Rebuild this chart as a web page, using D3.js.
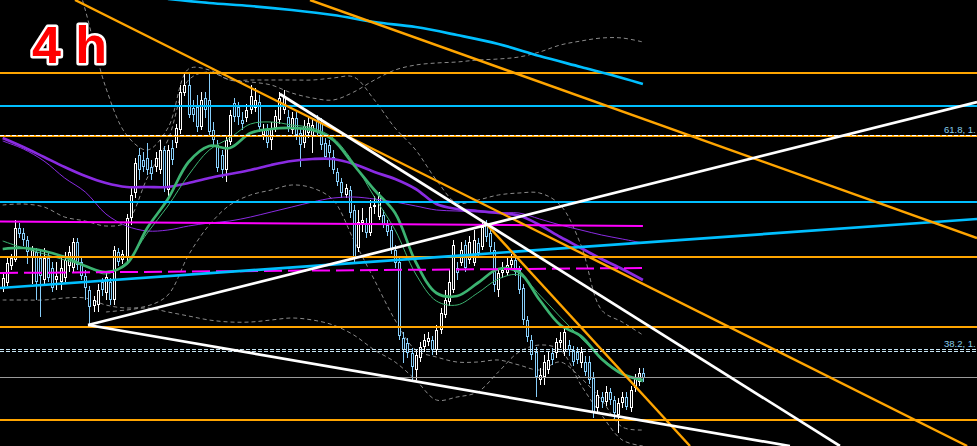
<!DOCTYPE html>
<html><head><meta charset="utf-8">
<script src="https://cdn.jsdelivr.net/npm/d3@7/dist/d3.min.js"></script>
<style>html,body{margin:0;padding:0;background:#000;overflow:hidden;}svg{display:block;}</style>
</head><body>
<svg id="chart" width="977" height="446"></svg>
<script>
// ---------- DATA (4h bars, price units) ----------
const opens=[1712,1717,1734,1740,1772,1767,1760,1742,1748,1742,
1720,1742,1732,1720,1718,1722,1734,1732,1758,1738,
1724,1710,1694,1695,1718,1707,1718,1700,1748,1740,
1742,1782,1807,1845,1840,1842,1833,1833,1830,1850,
1810,1852,1857,1870,1907,1915,1892,1893,1873,1902,
1900,1870,1855,1845,1830,1858,1897,1893,1880,1882,
1890,1892,1898,1865,1870,1860,1872,1880,1890,1883,
1870,1882,1867,1857,1867,1863,1880,1877,1857,1855,
1843,1828,1818,1805,1810,1790,1752,1777,1777,1767,
1793,1783,1785,1775,1770,1750,1738,1662,1657,1647,
1630,1642,1653,1658,1660,1650,1670,1685,1698,1710,
1732,1737,1755,1740,1737,1757,1753,1775,1767,1750,
1710,1727,1727,1735,1740,1730,1712,1680,1660,1648,
1620,1623,1630,1647,1647,1657,1648,1655,1650,1648,
1637,1638,1638,1622,1592,1603,1598,1608,1600,1585,
1597,1603,1592,1612,1618,1627];
const highs=[1728,1742,1746,1780,1777,1772,1764,1754,1752,1750,
1752,1748,1738,1738,1742,1748,1754,1762,1762,1744,
1730,1714,1704,1716,1722,1728,1722,1754,1752,1750,
1786,1812,1842,1852,1848,1857,1840,1848,1860,1854,
1855,1860,1876,1915,1927,1927,1900,1905,1908,1908,
1927,1878,1860,1850,1865,1890,1902,1898,1888,1896,
1915,1912,1905,1876,1876,1878,1890,1908,1910,1890,
1888,1888,1872,1880,1883,1882,1885,1882,1862,1860,
1850,1832,1822,1816,1814,1795,1790,1792,1782,1800,
1804,1808,1790,1780,1774,1755,1742,1668,1662,1652,
1650,1658,1666,1668,1664,1675,1692,1710,1730,1760,
1738,1758,1760,1764,1770,1762,1778,1780,1772,1758,
1732,1738,1742,1746,1745,1734,1716,1684,1665,1653,
1632,1645,1648,1652,1662,1668,1672,1660,1654,1653,
1653,1644,1644,1628,1610,1608,1614,1612,1604,1602,
1608,1608,1614,1626,1632,1632];
const lows=[1708,1714,1730,1738,1762,1754,1736,1716,1700,1683,
1716,1718,1708,1710,1710,1718,1728,1728,1730,1720,
1700,1675,1688,1688,1704,1700,1695,1695,1734,1736,
1738,1775,1802,1820,1828,1825,1820,1828,1826,1808,
1804,1835,1852,1866,1904,1882,1878,1868,1870,1882,
1864,1854,1828,1822,1818,1855,1878,1875,1870,1878,
1886,1888,1868,1860,1852,1850,1868,1876,1886,1868,
1866,1860,1833,1852,1862,1847,1864,1850,1840,1833,
1826,1814,1802,1802,1782,1738,1748,1768,1762,1764,
1786,1780,1772,1764,1746,1732,1660,1637,1642,1618,
1620,1638,1648,1654,1645,1645,1666,1682,1694,1707,
1720,1734,1728,1736,1734,1742,1750,1758,1748,1708,
1703,1722,1724,1732,1724,1706,1675,1658,1640,1603,
1615,1615,1626,1635,1642,1652,1644,1644,1634,1636,
1632,1624,1616,1582,1588,1592,1594,1595,1580,1567,
1592,1590,1588,1608,1614,1618];
const closes=[1722,1737,1742,1772,1766,1760,1748,1750,1718,1724,
1742,1722,1712,1724,1732,1740,1748,1758,1735,1724,
1712,1693,1700,1710,1710,1723,1700,1750,1738,1746,
1782,1805,1837,1830,1833,1830,1826,1842,1850,1812,
1850,1840,1872,1908,1915,1885,1885,1873,1900,1890,
1868,1860,1832,1830,1860,1885,1883,1883,1876,1890,
1904,1900,1873,1870,1857,1872,1884,1902,1904,1873,
1882,1865,1855,1874,1877,1875,1868,1855,1843,1847,
1830,1818,1807,1812,1787,1742,1778,1780,1767,1793,
1795,1805,1775,1768,1750,1737,1664,1650,1647,1633,
1645,1653,1660,1662,1650,1670,1687,1700,1718,1755,
1727,1750,1732,1758,1760,1747,1773,1763,1753,1715,
1727,1730,1735,1740,1728,1710,1680,1663,1645,1623,
1625,1638,1640,1640,1658,1660,1668,1650,1638,1640,
1648,1628,1620,1587,1605,1598,1608,1600,1587,1597,
1603,1593,1610,1622,1627,1622];

// indicator samples, every 5 bars
const indBars=[0,5,10,15,20,25,30,35,40,45,50,55,60,65,70,75,80,85,90,95,100,105,110,115,120,125,130,135,140,145,150,155];
const maFast=[1751,1752,1749,1743,1734,1728,1736,1772,1801,1838,1854,1852,1867,1871,1872,1870,1860,1835,1810,1787,1738,1707,1704,1717,1731,1728,1700,1675,1664,1641,1626,1620];
const maMid=[1759,1752,1746,1740,1734,1726,1738,1767,1794,1825,1850,1862,1876,1878,1875,1872,1862,1837,1803,1770,1726,1699,1695,1707,1721,1725,1705,1683,1662,1642,1627,1618];
const maSlow=[1862,1853,1843,1833,1824,1817,1813,1813,1813,1817,1822,1826,1830,1835,1839,1841,1841,1836,1828,1821,1811,1796,1791,1789,1787,1784.5,1775,1763,1752,1741,1731,1720];
const maSlow2=[1859,1851,1839,1822,1808,1786,1774,1769,1770,1774,1777,1779,1783,1788,1793,1798,1802,1803,1801,1798,1794,1790,1789,1788,1787,1787,1781,1775,1770,1765,1761,1757];
const bandUpperA=[null,null,null,2060,1990,1912,1865,1850,1872,1931,1930,1920,1918,1915,1907,1902,1900,1908,1920,1930,1935,1937,1938,1940,1941,1943,1948,1955,1959,1962,1962,1958];
const bandUpperB=[1795,1796,1793,1783,1779,1774,1778,1822,1860,1920,1928,1920,1920,1920,1920,1920,1922,1923,1900,1872,1850,1820,1797,1800,1805,1807,1807,1795,1755,1690,1678,1665];
const bandLowerB=[1700,1700,1700,1702,1702,1695,1692,1694,1705,1745,1775,1795,1805,1810,1815,1812,1800,1760,1720,1680,1650,1643,1638,1638,1640,1635,1630,1638,1622,1600,1573,1570];
const bandLowerA=[null,null,null,null,null,1688,1690,1692,1688,1684,1680,1678,1678,1680,1682,1680,1675,1665,1650,1638,1620,1600,1603,1608,1628,1648,1655,1650,1615,1585,1560,1554];
// higher-timeframe average (bar, price)
const htfBars=[40,50,60,70,80,90,100,110,120,130,140,150,155];
const htfLine=[2001,1997,1994,1990,1985,1978,1973,1965,1956,1944,1933,1922,1916];

// levels (price)
const orangeLevels=[1927,1864,1743,1673,1580];
const blueLevels=[1894,1798.5];
const grayLevels=[1623];
const fibLevels=[1651,1649];
const fibTopLevels=[1865.5];
const fibTopLabels=["61.8, 1."];
const fibLabels=["38.2, 1."];
// trend lines: [[bar, price],[bar, price]]
const whiteTrends=[[[20.65,1675],[235.9,1898]],[[20.65,1675],[190.6,1554]],[[67.1,1906],[202.7,1554]]];
const orangeTrends=[[[17.5,2000],[233.5,1554]],[[74.4,2000],[235.9,1762]],[[117.3,1775],[166.4,1554]]];
const blueTrends=[[[-0.65,1712],[235.9,1781]]];
const magentaSolid=[[-0.65,1778.5],[155,1774]];
const magentaDashed=[[-0.65,1727],[155,1732]];
const title="4 h";

// ---------- DRAW ----------
const W=977,H=446;
const svg=d3.select('#chart');
svg.append('rect').attr('width',W).attr('height',H).attr('fill','#000');
const x=d3.scaleLinear().domain([0,155]).range([2.7,642.9]);
const y=d3.scaleLinear().domain([1554,2000]).range([H,0]);

const ind=(vals)=>indBars.map((b,i)=>[b,vals[i]]);
const lineGen=d3.line().defined(d=>d[1]!=null).x(d=>x(d[0])).y(d=>y(d[1])).curve(d3.curveCatmullRom);
const straight=d3.line().x(d=>x(d[0])).y(d=>y(d[1]));

// bands
const gb=svg.append('g').attr('fill','none').attr('stroke','#8a8a8a').attr('stroke-width',1).attr('stroke-dasharray','4,3');
[bandUpperA,bandUpperB,bandLowerB,bandLowerA].forEach(v=>gb.append('path').attr('d',lineGen(ind(v))));

// candles
const bars=d3.range(opens.length).map(i=>({i,o:opens[i],h:highs[i],l:lows[i],c:closes[i]}));
const cg=svg.append('g').attr('shape-rendering','crispEdges');
const col=d=>d.c>=d.o?'#ffffff':'#87cefa';
const cxp=d=>Math.round(x(d.i))+0.5;
cg.selectAll('line').data(bars).join('line')
  .attr('x1',cxp).attr('x2',cxp)
  .attr('y1',d=>Math.round(y(d.h))).attr('y2',d=>Math.round(y(d.l)))
  .attr('stroke',col).attr('stroke-width',1);
cg.selectAll('rect').data(bars).join('rect')
  .attr('x',d=>cxp(d)-1)
  .attr('y',d=>Math.round(y(Math.max(d.o,d.c)))+0.5)
  .attr('width',2)
  .attr('height',d=>Math.max(Math.round(y(Math.min(d.o,d.c)))-Math.round(y(Math.max(d.o,d.c)))-1,0))
  .attr('fill','#000').attr('stroke',col).attr('stroke-width',1);

// moving averages
const mg=svg.append('g').attr('fill','none');
mg.append('path').attr('d',lineGen(ind(maSlow2))).attr('stroke','#8a2be2').attr('stroke-width',1);
mg.append('path').attr('d',lineGen(ind(maSlow))).attr('stroke','#8a2be2').attr('stroke-width',2.7);
mg.append('path').attr('d',lineGen(ind(maMid))).attr('stroke','#3cb371').attr('stroke-width',1);
mg.append('path').attr('d',lineGen(ind(maFast))).attr('stroke','#3cb371').attr('stroke-width',2.7);

// horizontal levels
const hg=svg.append('g').attr('shape-rendering','crispEdges');
const hline=(p,color,w,dash)=>{
  const yy=Math.round(y(p))+(w%2?0.5:0);
  const l=hg.append('line').attr('x1',0).attr('x2',W).attr('y1',yy).attr('y2',yy).attr('stroke',color).attr('stroke-width',w);
  if(dash) l.attr('stroke-dasharray',dash);
};
grayLevels.forEach(p=>hline(p,'#9a9a9a',1));
fibLevels.forEach(p=>hline(p,'#c8e6f5',1,'4,2'));
orangeLevels.forEach(p=>hline(p,'#ffa500',2));
fibTopLevels.forEach(p=>hline(p,'#ffffff',1,'4,2'));
blueLevels.forEach(p=>hline(p,'#00bfff',2));

// magenta lines
svg.append('path').attr('d',straight(magentaSolid)).attr('stroke','#ff00ff').attr('stroke-width',2).attr('fill','none');
svg.append('path').attr('d',straight(magentaDashed)).attr('stroke','#ff00ff').attr('stroke-width',2).attr('stroke-dasharray','18,6').attr('fill','none');

// higher timeframe line
svg.append('path').attr('d',lineGen(htfBars.map((b,i)=>[b,htfLine[i]]))).attr('stroke','#00bfff').attr('stroke-width',2.7).attr('fill','none');

// trend lines
const tg=svg.append('g').attr('fill','none');
blueTrends.forEach(t=>tg.append('path').attr('d',straight(t)).attr('stroke','#00bfff').attr('stroke-width',2.7));
orangeTrends.forEach(t=>tg.append('path').attr('d',straight(t)).attr('stroke','#ffa500').attr('stroke-width',2.4));
whiteTrends.forEach(t=>tg.append('path').attr('d',straight(t)).attr('stroke','#ffffff').attr('stroke-width',2.7));

// fib labels
const lg=svg.append('g').attr('font-family','Liberation Sans, Arial, sans-serif').attr('font-size',9.5);
fibTopLevels.forEach((p,i)=>lg.append('text').attr('x',944).attr('y',y(p)-2).attr('fill','#87ceeb').text(fibTopLabels[i]));
fibLabels.forEach((p,i)=>lg.append('text').attr('x',944).attr('y',y(fibLevels[0])-2).attr('fill','#87ceeb').text(p));

// title
svg.append('text').attr('x',32).attr('y',63)
  .attr('font-family','Liberation Sans, Arial, sans-serif').attr('font-weight','bold').attr('font-size',52)
  .attr('fill','#ff0000').attr('stroke','#ffffff').attr('stroke-width',5).attr('stroke-linejoin','round')
  .attr('paint-order','stroke').text(title);
</script>
</body></html>
